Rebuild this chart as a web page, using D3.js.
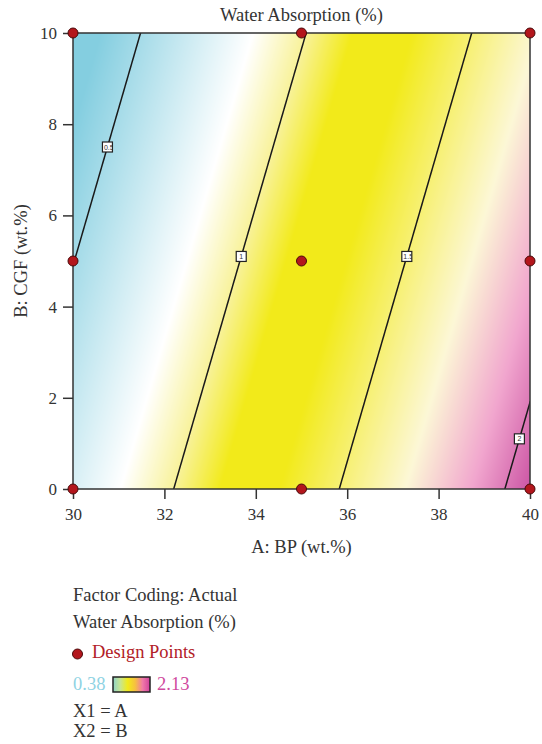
<!DOCTYPE html>
<html>
<head>
<meta charset="utf-8">
<script src="https://cdn.jsdelivr.net/npm/d3@7"></script>
<style>
  body { margin: 0; background: #fff; }
  svg text { font-family: "Liberation Serif", "DejaVu Serif", serif; fill: #333; }
</style>
</head>
<body>
<svg id="chart" width="542" height="744"></svg>
<script>
// data
const xTicks = [30, 32, 34, 36, 38, 40];
const yTicks = [0, 2, 4, 6, 8, 10];
const designA = [30, 35, 40, 30, 35, 40, 30, 35, 40];
const designB = [0, 0, 0, 5, 5, 5, 10, 10, 10];
const levels = [0.5, 1, 1.5, 2];
const labelB = [7.5, 5.1, 5.1, 1.1];     // where the level tags sit (B value)
const labelText = ["0.5", "1", "1.5", "2"];
// fitted surface: WA = b0 + bA*A + bB*B
const b0 = -3.444, bA = 0.138, bB = -0.040;
const rangeLo = 0.38, rangeHi = 2.13;
const rampVals = [0.38, 0.84, 1.00, 1.14, 1.32, 1.70, 1.90, 2.13];
const rampCols = ["#84cee0", "#ffffff", "#f8f29a", "#f2ea1a", "#f2ea1a", "#fcf7d6", "#f1a6ce", "#c13d98"];

const svg = d3.select("#chart");
const L = 73, R = 530, T = 33, B = 489;

const x = d3.scaleLinear().domain([30, 40]).range([L, R]);
const y = d3.scaleLinear().domain([0, 10]).range([B, T]);
const color = d3.scaleLinear().domain(rampVals).range(rampCols).clamp(true);
const wa = (a, b) => b0 + bA * a + bB * b;

// filled surface on a canvas, dropped in as an image
const pw = R - L, ph = B - T;
const cv = document.createElement("canvas");
cv.width = pw; cv.height = ph;
const ctx = cv.getContext("2d");
const img = ctx.createImageData(pw, ph);
for (let j = 0; j < ph; j++) {
  for (let i = 0; i < pw; i++) {
    const c = d3.rgb(color(wa(x.invert(L + i + 0.5), y.invert(T + j + 0.5))));
    const k = (j * pw + i) * 4;
    img.data[k] = c.r; img.data[k + 1] = c.g; img.data[k + 2] = c.b; img.data[k + 3] = 255;
  }
}
ctx.putImageData(img, 0, 0);
svg.append("image")
  .attr("x", L).attr("y", T).attr("width", pw).attr("height", ph)
  .attr("href", cv.toDataURL());

svg.append("clipPath").attr("id", "plotclip")
  .append("rect").attr("x", L).attr("y", T).attr("width", pw).attr("height", ph);

// contour lines
const n = 120;
const grid = new Array(n * n);
for (let j = 0; j < n; j++)
  for (let i = 0; i < n; i++)
    grid[j * n + i] = wa(30 + i / (n - 1) * 10, 10 - j / (n - 1) * 10);
const contours = d3.contours().size([n, n]).thresholds(levels)(grid);
const proj = d3.geoTransform({
  point: function(px, py) {
    this.stream.point(x(30 + (px - 0.5) / (n - 1) * 10), y(10 - (py - 0.5) / (n - 1) * 10));
  }
});
svg.append("g").attr("clip-path", "url(#plotclip)")
  .selectAll("path").data(contours).join("path")
    .attr("d", d3.geoPath(proj))
    .attr("fill", "none")
    .attr("stroke", "#1a1a1a")
    .attr("stroke-width", 1.5);

// level tags (text clipped to the little box, as in the original)
const defs = svg.append("defs");
defs.append("clipPath").attr("id", "tagclip")
  .append("rect").attr("x", -5).attr("y", -5).attr("width", 10).attr("height", 10);
const tags = svg.append("g");
levels.forEach((lv, i) => {
  const a = (lv - b0 - bB * labelB[i]) / bA;
  const g = tags.append("g").attr("transform", `translate(${x(a)},${y(labelB[i])})`);
  g.append("rect").attr("x", -5).attr("y", -5).attr("width", 10).attr("height", 10)
    .attr("fill", "#fff").attr("stroke", "#222").attr("stroke-width", 1.2);
  g.append("text").attr("clip-path", "url(#tagclip)")
    .attr("x", labelText[i].length > 1 ? -3.5 : -2).attr("y", 2.5)
    .style("font-size", "7px").style("font-family", "Liberation Sans, sans-serif")
    .text(labelText[i]);
});

// frame
svg.append("rect").attr("x", L).attr("y", T).attr("width", pw).attr("height", ph)
  .attr("fill", "none").attr("stroke", "#333").attr("stroke-width", 1.5);

// axes
const xAxis = svg.append("g").attr("transform", `translate(0,${B})`)
  .call(d3.axisBottom(x).tickValues(xTicks).tickSize(10).tickPadding(9).tickFormat(d3.format("d")));
const yAxis = svg.append("g").attr("transform", `translate(${L},0)`)
  .call(d3.axisLeft(y).tickValues(yTicks).tickSize(10).tickPadding(6).tickFormat(d3.format("d")));
[xAxis, yAxis].forEach(g => {
  g.select(".domain").remove();
  g.selectAll(".tick line").attr("stroke", "#333").attr("stroke-width", 1.5);
  g.selectAll(".tick text").style("font-size", "17px").style("font-family", "Liberation Serif, serif").attr("fill", "#333");
});

// design points
svg.append("g").selectAll("circle").data(designA).join("circle")
  .attr("cx", d => x(d))
  .attr("cy", (d, i) => y(designB[i]))
  .attr("r", 5)
  .attr("fill", "#b3161c")
  .attr("stroke", "#4a0a0a")
  .attr("stroke-width", 1);

// titles
const fs = "18.5px";
svg.append("text").attr("x", (L + R) / 2).attr("y", 21).attr("text-anchor", "middle")
  .style("font-size", fs).text("Water Absorption (%)");
svg.append("text").attr("x", (L + R) / 2).attr("y", 553).attr("text-anchor", "middle")
  .style("font-size", fs).text("A: BP (wt.%)");
svg.append("text").attr("transform", `translate(27,${(T + B) / 2}) rotate(-90)`)
  .attr("text-anchor", "middle").style("font-size", fs).text("B: CGF (wt.%)");

// legend block
const lg = svg.append("g").attr("transform", "translate(73,0)");
lg.append("text").attr("y", 601).style("font-size", fs).text("Factor Coding: Actual");
lg.append("text").attr("y", 628).style("font-size", fs).text("Water Absorption (%)");
lg.append("circle").attr("cx", 4.5).attr("cy", 654).attr("r", 5)
  .attr("fill", "#b3161c").attr("stroke", "#4a0a0a");
lg.append("text").attr("x", 19).attr("y", 658).style("font-size", fs)
  .style("fill", "#b22026").text("Design Points");
lg.append("text").attr("y", 690).style("font-size", fs)
  .style("fill", "#8fd3e3").text(d3.format(".2f")(rangeLo));

const grad = defs.append("linearGradient").attr("id", "ramp");
const legendCols = ["#8fd3c8", "#c8e690", "#f2ea1a", "#f6c040", "#f07aa8", "#d0409c"];
legendCols.forEach((c, i) => grad.append("stop")
  .attr("offset", i / (legendCols.length - 1)).attr("stop-color", c));
lg.append("rect").attr("x", 40).attr("y", 677).attr("width", 37).attr("height", 15)
  .attr("fill", "url(#ramp)").attr("stroke", "#222").attr("stroke-width", 1.5);
lg.append("text").attr("x", 84).attr("y", 690).style("font-size", fs)
  .style("fill", "#d04a9e").text(d3.format(".2f")(rangeHi));
lg.append("text").attr("y", 717).style("font-size", fs).text("X1 = A");
lg.append("text").attr("y", 737).style("font-size", fs).text("X2 = B");
</script>
</body>
</html>
